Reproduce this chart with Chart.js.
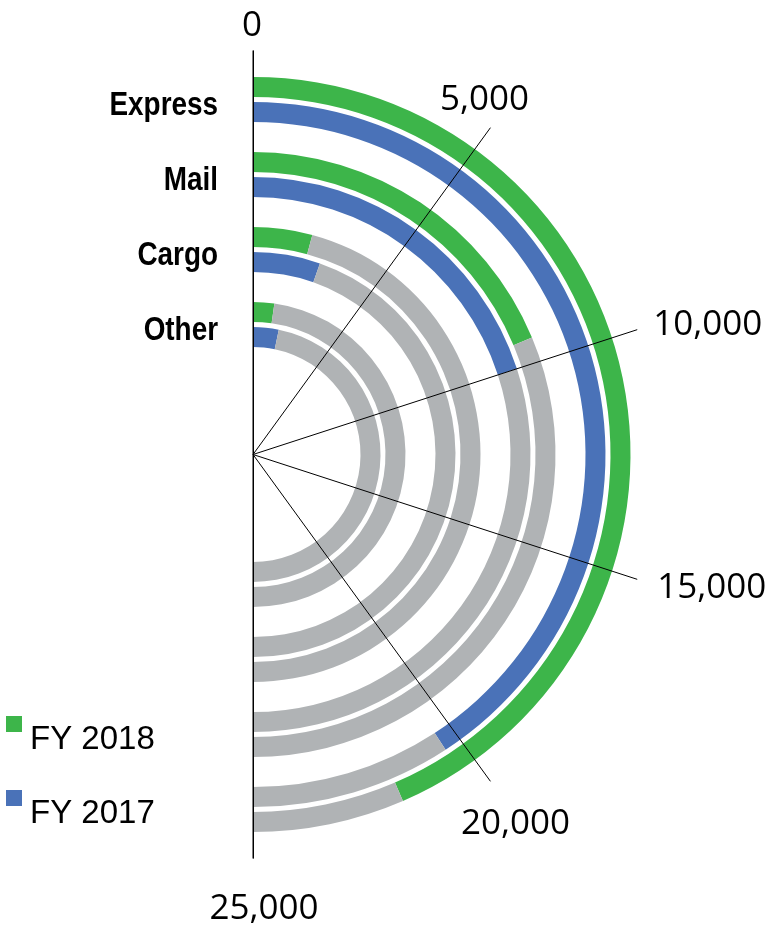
<!DOCTYPE html>
<html>
<head>
<meta charset="utf-8">
<script src="https://cdn.jsdelivr.net/npm/chart.js@4"></script>
<style>
  html, body { margin: 0; padding: 0; background: #fff; }
  canvas { display: block; }
</style>
</head>
<body>
<canvas id="myChart" width="771" height="927"></canvas>
<script>
const categories = ['Express', 'Mail', 'Cargo', 'Other'];
const fy2018 = [21750, 9340, 2100, 1120];
const fy2017 = [20400, 10000, 2680, 1620];
const seriesLabels = ['FY 2018', 'FY 2017'];
const scaleMax = 25000;
const tickValues = [0, 5000, 10000, 15000, 20000, 25000];

const green = 'rgb(61, 181, 74)';
const blue = 'rgb(74, 114, 184)';
const gray = 'rgb(176, 179, 181)';

// one ring per series value, spacer rings make the gaps
const datasets = [];
const ringIndex = [];
categories.forEach((cat, i) => {
    ringIndex.push(datasets.length);
    datasets.push({ label: seriesLabels[0], data: [fy2018[i], scaleMax - fy2018[i]], backgroundColor: [green, gray], weight: 20 });
    datasets.push({ label: 'gap', data: [scaleMax], backgroundColor: ['rgba(0,0,0,0)'], weight: 5 });
    datasets.push({ label: seriesLabels[1], data: [fy2017[i], scaleMax - fy2017[i]], backgroundColor: [blue, gray], weight: 20 });
    if (i < categories.length - 1) {
        datasets.push({ label: 'gap', data: [scaleMax], backgroundColor: ['rgba(0,0,0,0)'], weight: 30 });
    }
});

const decorations = {
    id: 'decorations',
    afterDraw(chart) {
        const c = chart.ctx;
        const arc0 = chart.getDatasetMeta(0).data[0];
        const cx = arc0.x, cy = arc0.y;
        const axisR = 404;

        // radial axis lines
        c.save();
        c.strokeStyle = '#000';
        c.lineWidth = 1;
        tickValues.forEach(v => {
            const a = v / scaleMax * Math.PI;
            c.beginPath();
            c.moveTo(cx, cy);
            c.lineTo(cx + axisR * Math.sin(a), cy - axisR * Math.cos(a));
            c.stroke();
        });
        c.beginPath();
        c.moveTo(cx + 0.5, cy - axisR);
        c.lineTo(cx + 0.5, cy + axisR);
        c.stroke();

        // tick labels
        const offsets = [[-1, -27, 'center'], [-6, -30, 'center'], [16, -7, 'left'], [20, 7, 'left'], [25, 41, 'center'], [11, 48, 'center']];
        c.fillStyle = '#000';
        c.font = '35px "Open Sans"';
        c.textBaseline = 'alphabetic';
        tickValues.forEach((v, i) => {
            const a = v / scaleMax * Math.PI;
            const ex = cx + axisR * Math.sin(a);
            const ey = cy - axisR * Math.cos(a);
            c.textAlign = offsets[i][2];
            c.fillText(v.toLocaleString('en-US'), ex + offsets[i][0], ey + offsets[i][1] + 12);
        });

        // category labels, condensed bold
        c.font = 'bold 34px "Liberation Sans", Arial, sans-serif';
        c.textAlign = 'right';
        categories.forEach((cat, i) => {
            const a = chart.getDatasetMeta(ringIndex[i]).data[0];
            const b = chart.getDatasetMeta(ringIndex[i] + 2).data[0];
            const mid = ((a.outerRadius + a.innerRadius) / 2 + (b.outerRadius + b.innerRadius) / 2) / 2;
            c.save();
            c.translate(218, cy - mid + 15);
            c.scale(0.82, 1);
            c.fillText(cat, 0, 0);
            c.restore();
        });

        // legend
        c.font = '33px "Liberation Sans", Arial, sans-serif';
        c.textAlign = 'left';
        [green, blue].forEach((col, i) => {
            const y = 716 + i * 74;
            c.fillStyle = col;
            c.fillRect(6, y, 16, 16);
            c.fillStyle = '#000';
            c.fillText(seriesLabels[i], 30, y + 33);
        });
        c.restore();
    }
};

const myChart = new Chart(document.getElementById('myChart').getContext('2d'), {
    type: 'doughnut',
    data: {
        labels: ['value', 'rest'],
        datasets: datasets
    },
    options: {
        responsive: false,
        animation: false,
        rotation: 0,
        circumference: 180,
        cutout: (107.5 / 377.5 * 100) + '%',
        borderWidth: 0,
        layout: { padding: { left: 253, right: 140.5, top: 77, bottom: 95 } },
        plugins: {
            legend: { display: false },
            tooltip: { enabled: false }
        }
    },
    plugins: [decorations]
});
</script>
</body>
</html>
